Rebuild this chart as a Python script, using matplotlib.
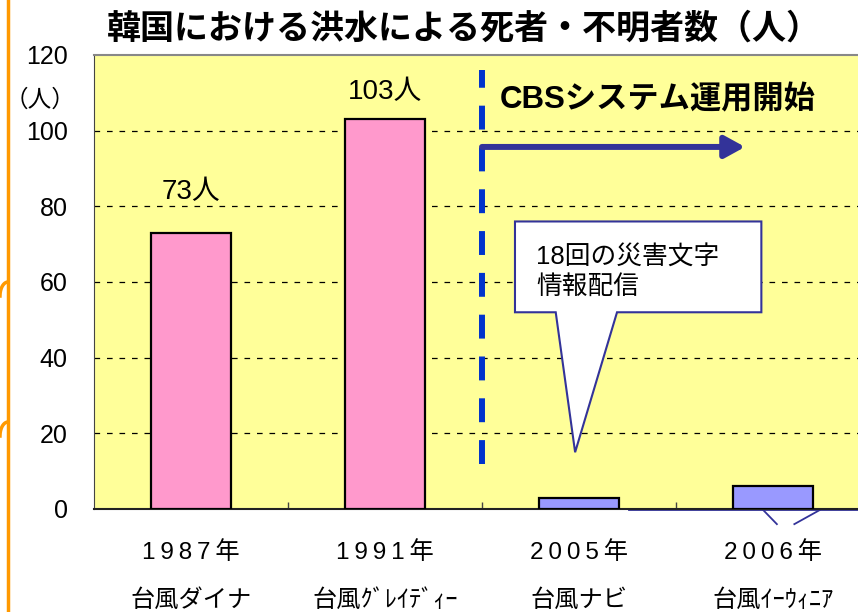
import matplotlib
matplotlib.use("Agg")
import matplotlib.pyplot as plt
from matplotlib.patches import Polygon
import matplotlib.transforms as mtransforms
import numpy as np

plt.rcParams['font.family'] = ['Liberation Sans', 'Noto Sans CJK JP', 'DejaVu Sans']

years = ['1987年', '1991年', '2005年', '2006年']
typhoons = ['台風ダイナ', '台風ｸﾞﾚｲﾃﾞｨｰ', '台風ナビ', '台風ｲｰｳｨﾆｱ']
deaths = [73, 103, 3, 6]
bar_labels = ['73人', '103人', '', '']
bar_colors = ['#FF99CC', '#FF99CC', '#9999FF', '#9999FF']
yticks = [0, 20, 40, 60, 80, 100, 120]

W, H = 858, 612
fig = plt.figure(figsize=(W / 100, H / 100), dpi=100)
# plot area runs past the right edge of the picture, as in the reference
ax = fig.add_axes([94 / W, (H - 509) / H, (870 - 94) / W, 454 / H])
ax.set_facecolor('#FFFF99')

x = range(len(years))
ax.bar(x, deaths, width=0.41, color=bar_colors, edgecolor='black', linewidth=1.6, zorder=3)

ax.set_xlim(-0.5, 3.5)
ax.set_ylim(0, 120)
ax.set_yticks(yticks)
ax.set_yticklabels([str(v) for v in yticks], fontsize=18)
ax.tick_params(axis='y', length=0, pad=19)
ax.set_xticks([0.5, 1.5, 2.5])
ax.set_xticklabels([])
ax.tick_params(axis='x', direction='in', length=5, width=1, color='#444444')

for v in yticks[1:-1]:
    ax.axhline(v, color='black', lw=0.9, dashes=(4.5, 5.5), zorder=1)

ax.spines['left'].set_color('#444444')
ax.spines['bottom'].set_color('#222222')
ax.spines['bottom'].set_linewidth(1.5)
ax.spines['top'].set_color('#888888')
ax.spines['top'].set_linewidth(1.5)

# category labels under the axis (years drawn with wide digit spacing)
trans = mtransforms.blended_transform_factory(ax.transData, ax.transAxes)
label_off = [10.8, 7.2, 0, 0]
for i in x:
    ax.text(i, -0.097, '\u2009'.join(years[i][:-1]) + '\u2009' + years[i][-1], transform=trans,
            ha='center', va='center', fontsize=17.5)
    ax.text(i, -0.2, typhoons[i], transform=trans, ha='center', va='center', fontsize=17.5,
            family=['Noto Sans CJK JP'])
    if bar_labels[i]:
        ax.text(i, deaths[i] + label_off[i], bar_labels[i], ha='center', va='center',
                fontsize=20, zorder=4)

# CBS start marker and arrow
ax.plot([1.5, 1.5], [12, 116], color='#0033CC', lw=4.3, linestyle=(0, (4, 3)), zorder=4,
        solid_capstyle='butt')
ax.annotate('', xy=(2.856, 95.7), xytext=(1.5, 95.7),
            arrowprops=dict(arrowstyle='-|>,head_length=0.6,head_width=0.33', lw=4.3,
                            color='#333399', mutation_scale=20, shrinkA=0, shrinkB=0),
            zorder=5)

# callout
callout = Polygon([(1.67, 76), (2.94, 76), (2.94, 52), (2.196, 52), (1.98, 15),
                   (1.88, 52), (1.67, 52)], closed=True, facecolor='white',
                  edgecolor='#333399', lw=1.5, zorder=5)
ax.add_patch(callout)
ax.text(1.78, 62.7, '18回の災害文字\n情報配信', ha='left', va='center', fontsize=18.5,
        linespacing=1.3, zorder=6)

# piece of another callout under the 2006 bar
ax.plot([2.258, 3.6], [-0.3, -0.3], color='#333399', lw=1.3, clip_on=False, zorder=2)
ax.plot([2.95, 3.02], [-0.3, -4], color='#333399', lw=1.3, clip_on=False)
ax.plot([3.11, 3.24], [-4, -0.3], color='#333399', lw=1.3, clip_on=False)

fig.text(464 / W, 1 - 28 / H, '韓国における洪水による死者・不明者数（人）', ha='center', va='center',
         fontsize=24.5, fontweight='bold', family=['Noto Sans CJK JP'])
fig.text(500 / W, 1 - 100 / H, 'CBSシステム運用開始', ha='left', va='center',
         fontsize=22.5, fontweight='bold', family=['Liberation Sans', 'Noto Sans CJK JP'])
fig.text(40 / W, 1 - 100 / H, '（人）', ha='center', va='center', fontsize=17,
         family=['Noto Sans CJK JP'])

# orange bracket at the left edge
fig.add_artist(plt.Line2D([8 / W, 8 / W], [0, 1], color='#FF9900', lw=2.5))
t = np.linspace(0, 1, 12)
for yb in (282, 422):
    bx = 8 - 8 * np.sin(t * np.pi / 2)
    by = yb + 14 * (1 - np.cos(t * np.pi / 2))
    fig.add_artist(plt.Line2D(bx / W, 1 - by / H, color='#FF9900', lw=2.5))

fig.savefig('out.png', dpi=100)
